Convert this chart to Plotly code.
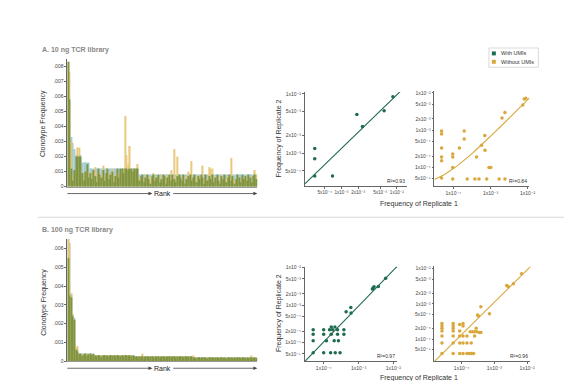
import numpy as np
import plotly.graph_objects as go

W, H = 572, 381
FONT = "Liberation Sans, Arial, DejaVu Sans, sans-serif"
GREEN = "#1f6b4e"
YELLOW = "#d9a73b"
TEAL = "#a2ccd4"
BAR_GREEN = "#6a8a34"
BAR_YELLOW = "#e8c46e"

# ---------------- Panel A bars (10 ng) ----------------
teal_A = ([0.0083, 0.0058, 0.0033, 0.0029, 0.0025] + [0.0021] * 4 + [0.0016] * 5
          + [0.0012] * 31 + [0.0008] * 75)
green_A = [
    .0083, .0058, .0012, .0004, .0011, .0020, .0020, .0020, .0020, .0009,
    .0004, .0010, .0015, .0006, .0009, .0005, .0011, .0007, .0003, .0012,
    .0008, .0006, .0011, .0004, .0009, .0012, .0005, .0008, .0010, .0003,
    .0007, .0012, .0006, .0012, .0012, .0009, .0012, .0012, .0011, .0012,
    .0012, .0010, .0012, .0012, .0012, .0004, .0007, .0008, .0003, .0006,
    .0008, .0005, .0002, .0007, .0008, .0004, .0006, .0008, .0003, .0005,
    .0008, .0007, .0002, .0006, .0008, .0004, .0008, .0005, .0003, .0007,
    .0008, .0006, .0004, .0008, .0002, .0005, .0007, .0008, .0004, .0006,
    .0008, .0003, .0007, .0005, .0008, .0006, .0002, .0008, .0004, .0007,
    .0005, .0008, .0003, .0006, .0008, .0004, .0002, .0007, .0005, .0008,
    .0003, .0006, .0008, .0004, .0007, .0002, .0005, .0008, .0006, .0003,
    .0008, .0005, .0007, .0004, .0008, .0006, .0003, .0007, .0008, .0005]
yellow_A = [
    .0083, .0076, .0030, .0006, .0009, .0012, .0026, .0026, .0015, .0007,
    .0010, .0005, .0013, .0009, .0004, .0010, .0006, .0013, .0009, .0005,
    .0010, .0007, .0014, .0008, .0006, .0011, .0009, .0004, .0012, .0008,
    .0006, .0010, .0009, .0011, .0007, .0012, .0047, .0021, .0015, .0027,
    .0010, .0012, .0009, .0011, .0015, .0006, .0005, .0007, .0004, .0008,
    .0006, .0003, .0007, .0005, .0009, .0006, .0004, .0007, .0008, .0003,
    .0006, .0005, .0008, .0004, .0007, .0011, .0006, .0025, .0005, .0020,
    .0007, .0004, .0008, .0006, .0003, .0007, .0010, .0005, .0017, .0006,
    .0004, .0008, .0005, .0007, .0003, .0014, .0006, .0008, .0005, .0013,
    .0012, .0012, .0004, .0007, .0006, .0003, .0008, .0005, .0007, .0004,
    .0006, .0008, .0005, .0019, .0007, .0004, .0006, .0008, .0003, .0005,
    .0007, .0006, .0004, .0008, .0005, .0007, .0003, .0006, .0011, .0008]

# ---------------- Panel B bars (100 ng) ----------------
teal_B = ([0.0065, 0.0063, 0.0036, 0.0025, 0.0023, 0.0007, 0.0006] + [0.00040] * 10
          + [0.00032] * 25 + [0.00026] * 37 + [0.00020] * 41)
green_B = [
    .0055, .0035, .0034, .0024, .0022, .0006, .0005, .00036, .00040, .00030,
    .00038, .00040, .00028, .00036, .00040, .00033, .00038, .00030, .00026, .00032,
    .00029, .00024, .00031, .00032, .00027, .00030, .00025, .00032, .00028, .00031,
    .00026, .00032, .00029, .00027, .00031, .00024, .00032, .00030, .00028, .00031,
    .00026, .00030, .00024, .00026, .00021, .00025, .00023, .00026, .00020, .00025,
    .00026, .00022, .00024, .00026, .00019, .00025, .00023, .00026, .00021, .00024,
    .00026, .00020, .00025, .00023, .00026, .00022, .00024, .00026, .00019, .00025,
    .00022, .00026, .00024, .00021, .00026, .00023, .00025, .00020, .00026, .00018,
    .00020, .00017, .00019, .00020, .00016, .00020, .00018, .00019, .00015, .00020,
    .00018, .00020, .00017, .00019, .00020, .00016, .00018, .00020, .00017, .00019,
    .00015, .00020, .00018, .00019, .00016, .00020, .00017, .00019, .00020, .00016,
    .00018, .00020, .00017, .00019, .00016, .00020, .00018, .00017, .00019, .00016]
yellow_B = [
    .0065, .0063, .0036, .0025, .0021, .0006, .0008, .00040, .00035, .00038,
    .00032, .00036, .00040, .00030, .00034, .00038, .00033, .00028, .00030, .00025,
    .00032, .00028, .00030, .00026, .00031, .00029, .00032, .00027, .00030, .00025,
    .00031, .00028, .00026, .00032, .00029, .00030, .00027, .00031, .00025, .00032,
    .00028, .00030, .00026, .00023, .00025, .00022, .00026, .00040, .00024, .00021,
    .00025, .00026, .00022, .00024, .00020, .00026, .00023, .00025, .00021, .00026,
    .00024, .00022, .00026, .00020, .00025, .00023, .00026, .00021, .00024, .00025,
    .00026, .00022, .00024, .00026, .00021, .00025, .00023, .00026, .00024, .00030,
    .00019, .00020, .00017, .00020, .00018, .00016, .00020, .00019, .00017, .00020,
    .00016, .00019, .00020, .00018, .00017, .00020, .00016, .00019, .00018, .00020,
    .00017, .00019, .00016, .00020, .00018, .00017, .00020, .00019, .00016, .00018,
    .00020, .00017, .00019, .00018, .00020, .00016, .00030, .00019, .00017, .00018]

bar_tick_vals_A = [0, .001, .002, .003, .004, .005, .006, .007, .008]
bar_tick_text_A = ["0", ".001", ".002", ".003", ".004", ".005", ".006", ".007", ".008"]
bar_tick_vals_B = [0, .001, .002, .003, .004, .005, .006]
bar_tick_text_B = ["0", ".001", ".002", ".003", ".004", ".005", ".006"]

# ---------------- Scatter data (replicate 1 vs replicate 2) ----------------
A_with_x = [3.3e-4, 3.3e-4, 3.3e-4, 6.9e-4, 1.9e-3, 2.4e-3, 5.9e-3, 8.5e-3]
A_with_y = [1.2e-3, 8.0e-4, 4.1e-4, 4.1e-4, 4.5e-3, 2.8e-3, 5.2e-3, 8.9e-3]

A_without_x = [4.8e-5, 4.8e-5, 4.8e-5, 4.8e-5, 4.8e-5, 4.8e-5,
               9.6e-5, 9.6e-5, 9.6e-5, 9.6e-5,
               1.45e-4, 1.95e-4, 1.95e-4, 2.35e-4, 3.8e-4, 4.9e-4, 4.2e-4,
               5.75e-4, 7.0e-4, 7.1e-4, 7.9e-4, 9.1e-4, 1.02e-3, 1.7e-3,
               2.04e-3, 2.45e-3, 2.45e-3, 7.4e-3, 8.1e-3, 8.9e-3]
A_without_y = [9.4e-4, 7.8e-4, 3.3e-4, 1.9e-4, 1.5e-4, 5.2e-5,
               2.3e-4, 1.9e-4, 1.0e-4, 4.9e-5,
               3.3e-4, 9.5e-4, 5.8e-4, 4.9e-5, 4.9e-5, 4.9e-5, 1.9e-4,
               3.9e-4, 7.2e-4, 2.9e-4, 4.9e-5, 1.0e-4, 1.0e-4, 4.9e-5,
               2.1e-3, 2.95e-3, 4.9e-5, 4.7e-3, 6.8e-3, 7.1e-3]

B_with_x = [5e-5, 1e-4, 1.47e-4, 1.8e-4, 2.5e-4, 3.8e-4,
            5e-5, 1e-4, 1.65e-4, 2.5e-4, 3.8e-4,
            5e-5, 1.2e-4, 2.0e-4, 2.65e-4,
            5e-5, 1e-4, 1.58e-4, 2.15e-4, 2.95e-4,
            1.65e-4, 2.1e-4,
            4.4e-4, 6.0e-4, 6.1e-4, 2.5e-3, 2.63e-3, 2.79e-3, 3.7e-3, 6.0e-3]
B_with_y = [2.2e-4, 2.2e-4, 2.2e-4, 2.2e-4, 2.2e-4, 2.2e-4,
            1.68e-4, 1.68e-4, 1.68e-4, 1.68e-4, 1.68e-4,
            1.12e-4, 1.12e-4, 1.12e-4, 1.12e-4,
            5.4e-5, 5.4e-5, 5.4e-5, 5.4e-5, 5.4e-5,
            2.6e-4, 2.6e-4,
            6.7e-4, 8.7e-4, 6.2e-4, 2.7e-3, 2.88e-3, 3.09e-3, 3.16e-3, 5.25e-3]

B_without_x = [2.5e-5, 2.5e-5, 2.5e-5, 2.5e-5, 2.5e-5, 2.5e-5, 2.5e-5,
               5.5e-5, 5.5e-5, 5.5e-5, 5.5e-5, 5.5e-5, 5.5e-5, 5.5e-5,
               8.7e-5, 8.7e-5, 8.7e-5, 8.7e-5, 8.7e-5,
               1.1e-4, 1.1e-4, 1.1e-4, 1.1e-4, 1.1e-4,
               1.45e-4, 1.7e-4, 1.96e-4, 2.31e-4,
               1.45e-4, 1.96e-4,
               1.45e-4, 2.48e-4,
               1.83e-4, 2.15e-4, 2.48e-4, 2.92e-4,
               2.78e-4, 3.5e-4, 3.85e-4,
               3.05e-4, 3.27e-4, 3.85e-4, 7.05e-4, 2.37e-3, 2.65e-3, 3.77e-3, 6.73e-3]
B_without_y = [2.74e-4, 2.36e-4, 2.02e-4, 1.70e-4, 1.23e-4, 7.7e-5, 3.9e-5,
               2.74e-4, 2.36e-4, 2.02e-4, 1.70e-4, 1.23e-4, 7.7e-5, 3.9e-5,
               2.6e-4, 1.7e-4, 1.23e-4, 7.7e-5, 3.9e-5,
               2.74e-4, 2.36e-4, 1.23e-4, 7.7e-5, 3.9e-5,
               3.9e-5, 3.9e-5, 3.9e-5, 3.9e-5,
               7.7e-5, 7.7e-5,
               1.23e-4, 1.23e-4,
               1.6e-4, 1.6e-4, 1.6e-4, 1.6e-4,
               2.02e-4, 1.53e-4, 1.53e-4,
               4.81e-4, 4.51e-4, 8.24e-4, 5.24e-4, 3.29e-3, 3.02e-3, 3.66e-3, 7.02e-3]

# fitted lines: y = offset + coef * x ** power
fit_A_with = (0.906, 0.625, 0.0)
fit_A_without = (1.0, 0.65, 2.7e-5)
fit_B_with = (0.958, 0.708, 0.0)
fit_B_without = (0.915, 0.617, 0.0)
r2_labels = ["R²=0.93", "R²=0.84", "R²=0.97", "R²=0.96"]

tick_A1 = [5e-4, 1e-3, 2e-3, 5e-3, 1e-2]
tick_A1_text = ["5x10⁻⁴", "1x10⁻³", "2x10⁻³", "5x10⁻³", "1x10⁻²"]
tick_decades = [1e-4, 1e-3, 1e-2]
tick_decades_text = ["1x10⁻⁴", "1x10⁻³", "1x10⁻²"]
tick_y_wide = [5e-5, 1e-4, 2e-4, 5e-4, 1e-3, 2e-3, 5e-3, 1e-2]
tick_y_wide_text = ["5x10⁻⁵", "1x10⁻⁴", "2x10⁻⁴", "5x10⁻⁴",
                    "1x10⁻³", "2x10⁻³", "5x10⁻³", "1x10⁻²"]


def px(x):
    return x / W


def py(y):
    return 1 - y / H


fig = go.Figure()

# bars
for vals, color, op, xa, ya in [
    (teal_A, TEAL, 1.0, "x", "y"), (yellow_A, BAR_YELLOW, 0.9, "x", "y"),
    (green_A, BAR_GREEN, 0.8, "x", "y"),
    (teal_B, TEAL, 1.0, "x2", "y2"), (yellow_B, BAR_YELLOW, 0.9, "x2", "y2"),
    (green_B, BAR_GREEN, 0.8, "x2", "y2")]:
    fig.add_trace(go.Bar(x=list(range(len(vals))), y=vals, marker=dict(color=color, line=dict(width=0)),
                         opacity=op, xaxis=xa, yaxis=ya, showlegend=False, hoverinfo="skip"))

# scatters + fit lines
scatters = [
    (A_with_x, A_with_y, GREEN, fit_A_with, "x3", "y3", (-3.66, -1.82)),
    (A_without_x, A_without_y, YELLOW, fit_A_without, "x4", "y4", (-4.51, -1.95)),
    (B_with_x, B_with_y, GREEN, fit_B_with, "x5", "y5", (-4.54, -1.90)),
    (B_without_x, B_without_y, YELLOW, fit_B_without, "x6", "y6", (-4.83, -1.90)),
]
for sx, sy, col, fit, xa, ya, xr in scatters:
    k, c, b = fit
    xs = np.logspace(xr[0], xr[1], 80)
    ys = b + c * xs ** k
    fig.add_trace(go.Scatter(x=xs, y=ys, mode="lines", line=dict(color=col, width=1.1),
                             xaxis=xa, yaxis=ya, showlegend=False, hoverinfo="skip"))
    fig.add_trace(go.Scatter(x=sx, y=sy, mode="markers", marker=dict(color=col, size=3.5),
                             xaxis=xa, yaxis=ya, showlegend=False, cliponaxis=False))

axis_common = dict(showgrid=False, zeroline=False, showline=True, linecolor="#666", linewidth=0.8,
                   ticks="outside", ticklen=2, tickwidth=0.6, tickcolor="#666", tickangle=0,
                   tickfont=dict(size=5, color="#444", family=FONT))
axis_small = dict(axis_common, tickfont=dict(size=4.6, color="#444", family=FONT))

layout = dict(
    width=W, height=H, autosize=False, margin=dict(l=0, r=0, t=0, b=0),
    paper_bgcolor="white", plot_bgcolor="white", barmode="overlay", bargap=0.22,
    font=dict(family=FONT),
    xaxis=dict(domain=[px(60), px(252)], range=[-0.5, 119.5], showticklabels=False, showgrid=False,
               zeroline=False, showline=True, linecolor="#999", linewidth=0.6, ticks=""),
    yaxis=dict(domain=[py(179), py(50)], range=[0, 0.00846], tickvals=bar_tick_vals_A,
               ticktext=bar_tick_text_A, **axis_common),
    xaxis2=dict(domain=[px(60), px(252)], range=[-0.5, 119.5], showticklabels=False, showgrid=False,
                zeroline=False, showline=True, linecolor="#999", linewidth=0.6, ticks="", anchor="y2"),
    yaxis2=dict(domain=[py(355.7), py(232)], range=[0, 0.00651], tickvals=bar_tick_vals_B,
                ticktext=bar_tick_text_B, anchor="x2", **axis_common),
    xaxis3=dict(type="log", domain=[px(300), px(403)], range=[-3.66, -1.82], anchor="y3",
                tickvals=tick_A1, ticktext=tick_A1_text, **axis_small),
    yaxis3=dict(type="log", domain=[py(178), py(83)], range=[-3.55, -1.967], anchor="x3",
                tickvals=tick_A1, ticktext=tick_A1_text, **axis_common),
    xaxis4=dict(type="log", domain=[px(431), px(527)], range=[-4.51, -1.95], anchor="y4",
                tickvals=tick_decades, ticktext=tick_decades_text, **axis_common),
    yaxis4=dict(type="log", domain=[py(178), py(82)], range=[-4.49, -1.95], anchor="x4",
                tickvals=tick_y_wide, ticktext=tick_y_wide_text, **axis_common),
    xaxis5=dict(type="log", domain=[px(300), px(393)], range=[-4.54, -1.90], anchor="y5",
                tickvals=tick_decades, ticktext=tick_decades_text, **axis_common),
    yaxis5=dict(type="log", domain=[py(356), py(260)], range=[-4.50, -1.97], anchor="x5",
                tickvals=tick_y_wide, ticktext=tick_y_wide_text, **axis_common),
    xaxis6=dict(type="log", domain=[px(431), px(528)], range=[-4.83, -1.90], anchor="y6",
                tickvals=tick_decades, ticktext=tick_decades_text, **axis_common),
    yaxis6=dict(type="log", domain=[py(356), py(259)], range=[-4.63, -1.92], anchor="x6",
                tickvals=tick_y_wide, ticktext=tick_y_wide_text, **axis_common),
)
fig.update_layout(**layout)

ann = []


def text(x, y, s, size=7, color="#333", xanchor="center", angle=0, bold=False):
    if bold:
        s = "<b>" + s + "</b>"
    ann.append(dict(x=px(x), y=py(y), xref="paper", yref="paper", text=s, showarrow=False,
                    xanchor=xanchor, yanchor="middle", textangle=angle,
                    font=dict(size=size, color=color, family=FONT)))


text(32, 41, "A. 10 ng TCR library", size=7, color="#888", xanchor="left", bold=True)
text(32, 223, "B. 100 ng TCR library", size=7, color="#888", xanchor="left", bold=True)
text(36, 115, "Clonotype Frequency", size=7, angle=-90)
text(36, 296, "Clonotype Frequency", size=7, angle=-90)
text(274, 130, "Frequency of Replicate 2", size=7, angle=-90)
text(274, 307, "Frequency of Replicate 2", size=7, angle=-90)
text(415, 197, "Frequency of Replicate 1", size=7)
text(415, 373, "Frequency of Replicate 1", size=7)
text(156, 186, "Rank", size=7, color="#222")
text(156, 363, "Rank", size=7, color="#222")
text(403, 173, r2_labels[0], size=5, xanchor="right")
text(527, 173, r2_labels[1], size=5, xanchor="right")
text(393, 351, r2_labels[2], size=5, xanchor="right")
text(528, 351, r2_labels[3], size=5, xanchor="right")
text(496, 44, "With UMIs", size=5.5, xanchor="left")
text(496, 52.5, "Without UMIs", size=5.5, xanchor="left")
fig.update_layout(annotations=ann)

shapes = [
    dict(type="line", xref="paper", yref="paper", x0=px(30), x1=px(565), y0=py(210), y1=py(210),
         line=dict(color="#d8d8d8", width=1)),
    dict(type="rect", xref="paper", yref="paper", x0=px(486), x1=px(536), y0=py(58), y1=py(38.5),
         line=dict(color="#d0d0d0", width=0.8), fillcolor="white"),
    dict(type="rect", xref="paper", yref="paper", x0=px(489), x1=px(493), y0=py(46), y1=py(42),
         line=dict(width=0), fillcolor=GREEN),
    dict(type="rect", xref="paper", yref="paper", x0=px(489), x1=px(493), y0=py(54.5), y1=py(50.5),
         line=dict(width=0), fillcolor=YELLOW),
]
# "Rank" arrows
for yy in (186, 363):
    for tail, head in ((60, 146), (167, 252)):
        shapes.append(dict(type="line", xref="paper", yref="paper", x0=px(tail), x1=px(head - 2),
                           y0=py(yy), y1=py(yy), line=dict(color="#444", width=0.8)))
        shapes.append(dict(type="path", xref="paper", yref="paper",
                           path=f"M {px(head)},{py(yy)} L {px(head - 4)},{py(yy - 1.8)} "
                                f"L {px(head - 4)},{py(yy + 1.8)} Z",
                           fillcolor="#444", line=dict(width=0)))
fig.update_layout(shapes=shapes)

fig.write_html("out.html")
